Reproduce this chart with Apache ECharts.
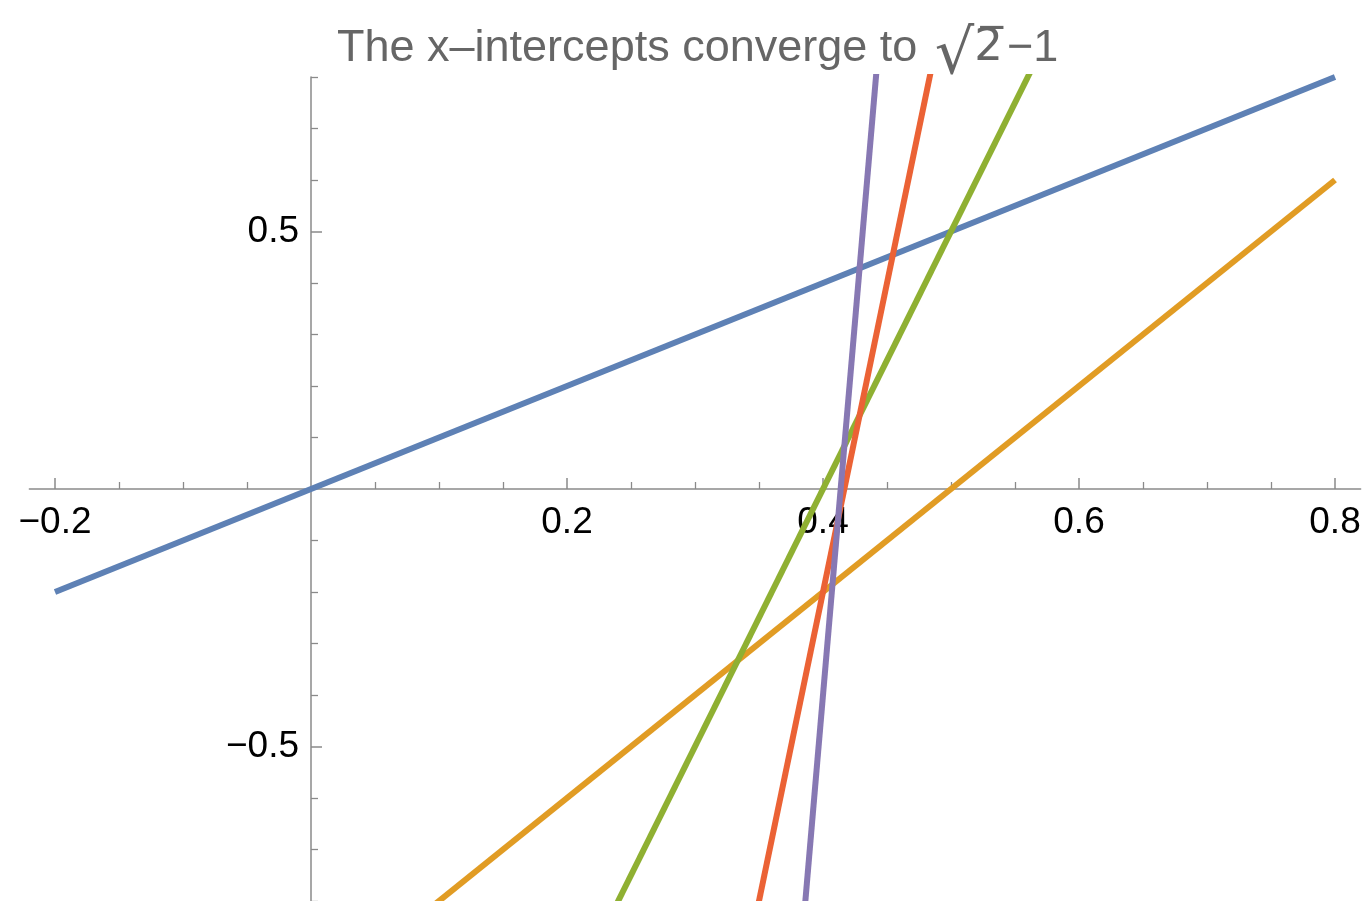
<!DOCTYPE html>
<html>
<head>
<meta charset="utf-8">
<script src="https://cdn.jsdelivr.net/npm/echarts@6/dist/echarts.min.js"></script>
<style>
  html, body { margin: 0; padding: 0; background: #fff; }
  #chart { width: 1369px; height: 901px; }
</style>
</head>
<body>
<div id="chart"></div>
<script>
// Data: lines y = slope * x + intercept (convergents of sqrt(2)-1: 0/1, 1/2, 2/5, 5/12, 12/29)
const lineNames = ['n=0', 'n=1', 'n=2', 'n=3', 'n=4'];
const slopes = [1, 2, 5, 12, 29];
const intercepts = [0, -1, -2, -5, -12];
const domainX = [-0.2, 0.8];
const xRange = [-0.22, 0.82];
const yRange = [-0.8, 0.8];
const xMajorTicks = [-0.2, 0.2, 0.4, 0.6, 0.8];
const xMinorTicks = [-0.15, -0.1, -0.05, 0.05, 0.1, 0.15, 0.25, 0.3, 0.35, 0.45, 0.5, 0.55, 0.65, 0.7, 0.75];
const yMajorTicks = [-0.5, 0.5];
const yMinorTicks = [-0.8, -0.7, -0.6, -0.4, -0.3, -0.2, -0.1, 0.1, 0.2, 0.3, 0.4, 0.6, 0.7, 0.8];

const colors = ['#5E81B5', '#E19C24', '#8FB032', '#EB6235', '#8778B3'];
const axisColor = '#8a8a8a';
const fmt = v => String(v).replace('-', '\u2212');

// layout
const W = 1369, H = 901;
const gridLeft = 29.4, gridRight = 8.4, gridTop = 77, gridBottom = 0;
const gridW = W - gridLeft - gridRight, gridH = H - gridTop - gridBottom;
// move axes onto the zero lines of the other axis
const yAxisOffset = -gridW * (0 - xRange[0]) / (xRange[1] - xRange[0]);
const xAxisOffset = -gridH * (0 - yRange[0]) / (yRange[1] - yRange[0]);

const chart = echarts.init(document.getElementById('chart'), null, { renderer: 'canvas' });

const series = slopes.map((m, i) => ({
  name: lineNames[i],
  type: 'line',
  xAxisIndex: 0,
  yAxisIndex: 0,
  symbol: 'none',
  clip: true,
  lineStyle: { color: colors[i], width: 6 },
  data: domainX.map(x => [x, m * x + intercepts[i]])
}));

const font = '"Liberation Sans", Arial, sans-serif';
const titleColor = '#666';

chart.setOption({
  animation: false,
  backgroundColor: '#fff',
  title: {
    left: 337,
    top: 26,
    padding: 0,
    text: '{t|The x\u2013intercepts converge to }{s|\u221A}{v|2\u0305}{m|\u22121}',
    textStyle: {
      fontWeight: 'normal',
      rich: {
        t: { fontSize: 45, color: titleColor, fontFamily: font, fontWeight: 'normal', verticalAlign: 'top', lineHeight: 56 },
        s: { fontSize: 62, color: titleColor, fontFamily: '"DejaVu Sans", sans-serif', fontWeight: 'normal', verticalAlign: 'bottom', lineHeight: 62, padding: [0, 0, 0, 5] },
        v: { fontSize: 45, color: titleColor, fontFamily: '"DejaVu Sans", sans-serif', fontWeight: 'normal', verticalAlign: 'top', lineHeight: 56 },
        m: { fontSize: 45, color: titleColor, fontFamily: font, fontWeight: 'normal', verticalAlign: 'top', lineHeight: 56, padding: [0, 0, 0, 4] }
      }
    }
  },
  grid: { left: gridLeft, right: gridRight, top: gridTop, bottom: gridBottom, containLabel: false, outerBoundsMode: 'none' },
  xAxis: [
    {
      type: 'value', min: xRange[0], max: xRange[1], position: 'bottom', offset: xAxisOffset,
      axisLine: { show: true, onZero: false, lineStyle: { color: axisColor, width: 1.5 } },
      axisTick: { show: true, inside: true, length: 11, customValues: xMajorTicks, lineStyle: { color: axisColor, width: 1.5 } },
      axisLabel: { show: true, customValues: xMajorTicks, formatter: fmt, fontSize: 37, color: '#000', fontFamily: font, margin: 15 },
      splitLine: { show: false }
    },
    {
      type: 'value', min: xRange[0], max: xRange[1], position: 'bottom', offset: xAxisOffset,
      axisLine: { show: false, onZero: false },
      axisTick: { show: true, inside: true, length: 7, customValues: xMinorTicks, lineStyle: { color: axisColor, width: 1.3 } },
      axisLabel: { show: false },
      splitLine: { show: false }
    }
  ],
  yAxis: [
    {
      type: 'value', min: yRange[0], max: yRange[1], position: 'left', offset: yAxisOffset,
      axisLine: { show: true, onZero: false, lineStyle: { color: axisColor, width: 1.5 } },
      axisTick: { show: true, inside: true, length: 11, customValues: yMajorTicks, lineStyle: { color: axisColor, width: 1.5 } },
      axisLabel: { show: true, customValues: yMajorTicks, formatter: fmt, fontSize: 37, color: '#000', fontFamily: font, margin: 12 },
      splitLine: { show: false }
    },
    {
      type: 'value', min: yRange[0], max: yRange[1], position: 'left', offset: yAxisOffset,
      axisLine: { show: false, onZero: false },
      axisTick: { show: true, inside: true, length: 7, customValues: yMinorTicks, lineStyle: { color: axisColor, width: 1.3 } },
      axisLabel: { show: false },
      splitLine: { show: false }
    }
  ],
  series: series
});
</script>
</body>
</html>
